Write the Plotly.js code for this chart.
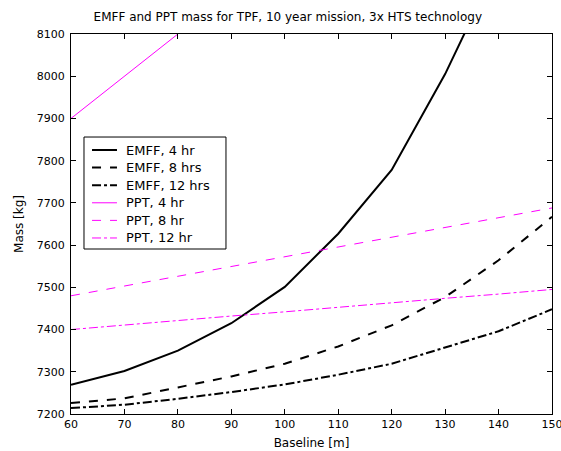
<!DOCTYPE html>
<html>
<head>
<meta charset="utf-8">
<script src="https://cdn.plot.ly/plotly-3.0.1.min.js"></script>
<style>html,body{margin:0;padding:0;background:#fff;}#chart{width:561px;height:451px;}</style>
</head>
<body>
<div id="chart"></div>
<script>
const baseline = [60, 70, 80, 90, 100, 110, 120, 130, 140, 150];
const emff4 = [7269, 7302, 7350, 7415, 7501, 7627, 7778, 8005, 8270, 8570];
const emff8 = [7226, 7237, 7263, 7289, 7319, 7360, 7410, 7477, 7564, 7667];
const emff12 = [7214, 7222, 7236, 7252, 7270, 7293, 7319, 7358, 7396, 7448];
const ppt4 = [7900, 8000, 8100, 8200, 8300, 8400, 8500, 8600, 8700, 8800];
const ppt8 = [7480, 7503, 7526, 7549, 7572, 7596, 7619, 7642, 7665, 7688];
const ppt12 = [7400, 7411, 7421, 7432, 7442, 7453, 7463, 7474, 7484, 7495];
const names = ["EMFF, 4 hr", "EMFF, 8 hrs", "EMFF, 12 hrs", "PPT, 4 hr", "PPT, 8 hr", "PPT, 12 hr"];

const series = [emff4, emff8, emff12, ppt4, ppt8, ppt12];
const styles = [
  {color: '#000000', width: 2, dash: 'solid'},
  {color: '#000000', width: 2, dash: 'dash'},
  {color: '#000000', width: 2, dash: 'dashdot'},
  {color: '#ff00ff', width: 1, dash: 'solid'},
  {color: '#ff00ff', width: 1, dash: 'dash'},
  {color: '#ff00ff', width: 1, dash: 'dashdot'}
];
const traces = series.map((ys, i) => ({
  x: baseline, y: ys, type: 'scatter', mode: 'lines', name: names[i],
  line: styles[i], showlegend: false
}));

const FONT = 'DejaVu Sans, Verdana, sans-serif';

// Legend drawn in paper coordinates (box + samples + labels)
const legX0 = 0.027, legX1 = 0.3222, legY0 = 0.4342, legY1 = 0.7289;
const rowTop = 0.6947, rowStep = 0.0463;
const sampleX0 = 0.0437, sampleX1 = 0.0956, textX = 0.1143;
const shapes = [{type: 'rect', xref: 'paper', yref: 'paper', x0: legX0, x1: legX1, y0: legY0, y1: legY1,
                 line: {color: '#000', width: 1}, fillcolor: '#fff', layer: 'above'}];
const annotations = [];
names.forEach((n, i) => {
  const yy = rowTop - i * rowStep;
  shapes.push({type: 'line', xref: 'paper', yref: 'paper', x0: sampleX0, x1: sampleX1, y0: yy, y1: yy,
               line: styles[i], layer: 'above'});
  annotations.push({xref: 'paper', yref: 'paper', x: textX, y: yy, text: n, showarrow: false,
                    xanchor: 'left', yanchor: 'middle', xshift: -2, font: {family: FONT, size: 13, color: '#000'}});
});

const axisCommon = {
  showgrid: false, zeroline: false, showline: true, linecolor: '#000', linewidth: 1,
  mirror: 'ticks', ticks: 'inside', ticklen: 5, tickcolor: '#000',
  ticklabeloverflow: 'allow',
  tickfont: {family: FONT, size: 11, color: '#000'}
};
const layout = {
  width: 561, height: 451,
  margin: {l: 71, r: 9, t: 34, b: 37},
  paper_bgcolor: '#fff', plot_bgcolor: '#fff',
  font: {family: FONT, size: 11, color: '#000'},
  title: {text: 'EMFF and PPT mass for TPF, 10 year mission, 3x HTS technology',
          font: {family: FONT, size: 12, color: '#000'}, x: 0.513, xref: 'container', y: 0.962, yref: 'container', yanchor: 'middle'},
  xaxis: Object.assign({}, axisCommon, {range: [60, 150], dtick: 10, tick0: 60,
          title: {text: 'Baseline [m]', font: {family: FONT, size: 12}, standoff: 8}}),
  yaxis: Object.assign({}, axisCommon, {range: [7200, 8100], dtick: 100, tick0: 7200,
          ticklabelstandoff: 3,
          title: {text: 'Mass [kg]', font: {family: FONT, size: 12}, standoff: 10}}),
  shapes: shapes,
  annotations: annotations,
  showlegend: false
};
Plotly.newPlot('chart', traces, layout, {displayModeBar: false, staticPlot: true});
</script>
</body>
</html>
